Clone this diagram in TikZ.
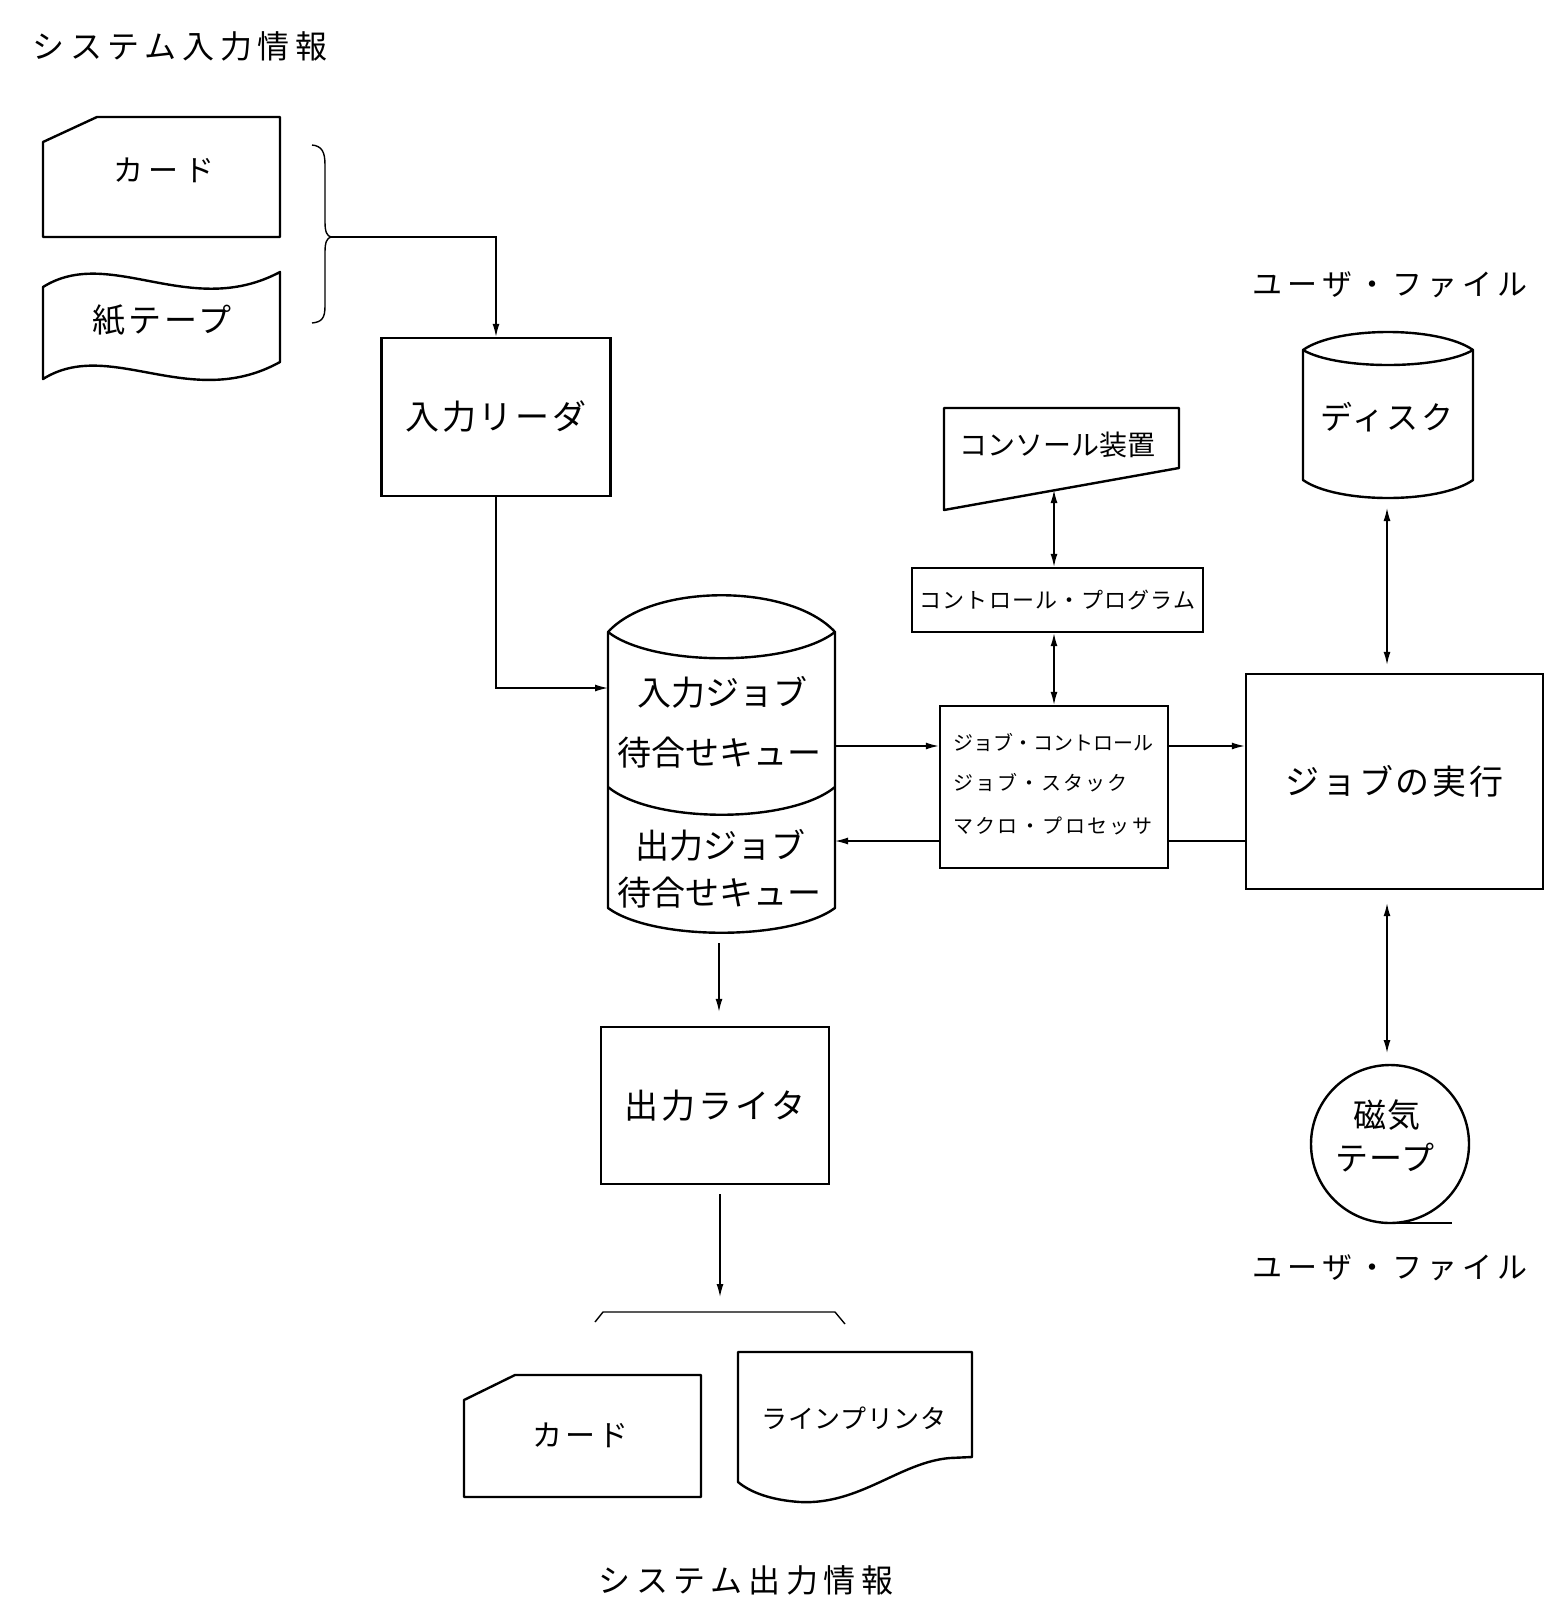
\documentclass[tikz,border=0pt]{standalone}
\usepackage{fontspec}
\setmainfont{Noto Sans CJK JP}
\usetikzlibrary{arrows.meta,calc}
\newcommand{\setjf}[2]{\fontsize{#1}{#1}\selectfont\addfontfeatures{LetterSpace=#2}}
\tikzset{
  shp/.style={draw, line width=2.4pt, line join=round},
  box/.style={draw, line width=2.4pt, rectangle, inner sep=0pt},
  lbl/.style={inner sep=0pt},
  conn/.style={line width=1.4pt},
  arr/.style={conn, -{Latex[length=13pt,width=7pt]}},
  darr/.style={conn, {Latex[length=13pt,width=7pt]}-{Latex[length=13pt,width=7pt]}},
  qt/.style={lbl, font=\setjf{34}{0}}
}
\begin{document}
\begin{tikzpicture}[x=1pt,y=-1pt]
\useasboundingbox[fill=white] (0,0) rectangle (1545,1598);

% titles
\node[lbl, font=\setjf{32}{18}] (tin) at (180,46) {システム入力情報};
\node[lbl, font=\setjf{32}{18}] (tout) at (746,1580) {システム出力情報};

% input card
\draw[shp] (43,142) -- (97,117) -- (280,117) -- (280,237) -- (43,237) -- cycle;
\node[lbl, font=\setjf{30}{18}] (card1) at (164,170) {カード};

% paper tape
\draw[shp] (43,287) .. controls (110,245) and (190,320) .. (280,272) -- (280,362)
  .. controls (190,412) and (110,337) .. (43,379) -- cycle;
\node[lbl, font=\setjf{33}{10}] (tape1) at (162,320) {紙テープ};

% brace
\draw[conn] (312,145) .. controls (322,146) and (325,152) .. (325,165) -- (325,222)
  .. controls (325,232) and (327,236) .. (331,237)
  .. controls (327,238) and (325,242) .. (325,252) -- (325,306)
  .. controls (325,318) and (322,322) .. (312,323);
\coordinate (brtip) at (331,237);

% input reader
\node[box, minimum width=229pt, minimum height=158pt, font=\setjf{34}{8}] (reader) at (496,417) {入力リーダ};
\draw[arr] (brtip) -| (reader.north);

% queue cylinder
\draw[shp] (608,632) -- (608,908) .. controls (653,941) and (790,941) .. (835,908) -- (835,632)
  .. controls (790,583) and (653,583) .. (608,632) -- cycle;
\draw[shp] (608,632) .. controls (653,667) and (790,667) .. (835,632);
\draw[shp] (608,787) .. controls (653,824) and (790,824) .. (835,787);
\node[lbl, minimum width=227pt, minimum height=338pt] (queue) at (721.5,764) {};
\node[qt] (q1) at (722,692) {入力ジョブ};
\node[qt] (q2) at (719,753) {待合せキュー};
\node[qt] (q3) at (720,845) {出力ジョブ};
\node[qt] (q4) at (719,893) {待合せキュー};
\coordinate (qin) at (608,688);
\draw[arr] (reader.south) |- (qin);

% job control
\node[box, minimum width=228pt, minimum height=162pt] (jc) at (1054,787) {};
\node[lbl, anchor=west, font=\setjf{20}{0}] (jc1) at (953,742) {ジョブ・コントロール};
\node[lbl, anchor=west, font=\setjf{20}{10}] (jc2) at (953,783) {ジョブ・スタック};
\node[lbl, anchor=west, font=\setjf{20}{12}] (jc3) at (953,826) {マクロ・プロセッサ};
\coordinate (qr1) at (835,746);
\coordinate (qr2) at (835,841);
\draw[arr] (qr1) -- (qr1 -| jc.west);
\draw[arr] (qr2 -| jc.west) -- (qr2);

% execution
\node[box, minimum width=297pt, minimum height=215pt, font=\setjf{34}{8}] (exec) at (1394.5,781.5) {ジョブの実行};
\draw[arr] (qr1 -| jc.east) -- (qr1 -| exec.west);
\draw[conn] (qr2 -| exec.west) -- (qr2 -| jc.east);

% control program
\node[box, minimum width=291pt, minimum height=64pt, font=\setjf{22}{5}] (cp) at (1057.5,600) {コントロール・プログラム};

% console
\draw[shp] (944,408) -- (1179,408) -- (1179,468) -- (944,510) -- cycle;
\node[lbl, font=\setjf{28}{0}] (con) at (1057,445) {コンソール装置};
\coordinate (conb) at (1054,490);
\draw[darr] (conb) -- (conb |- cp.north);
\draw[darr] (conb |- cp.south) -- (conb |- jc.north);

% disk
\draw[shp] (1303,350) -- (1303,480) .. controls (1337,504) and (1439,504) .. (1473,480) -- (1473,350)
  .. controls (1439,326) and (1337,326) .. (1303,350) -- cycle;
\draw[shp] (1303,350) .. controls (1337,370) and (1439,370) .. (1473,350);
\node[lbl, font=\setjf{32}{7}] (disk) at (1387,417) {ディスク};
\coordinate (diskb) at (1387,498);
\draw[darr, shorten <=10pt, shorten >=8pt] (diskb) -- (diskb |- exec.north);
\node[lbl, font=\setjf{30}{17}] (uf1) at (1390,285) {ユーザ・ファイル};

% magnetic tape
\draw[shp] (1390,1144) circle[radius=79pt];
\draw[shp] (1390,1223) -- (1452,1223);
\node[lbl, font=\setjf{33}{2}] (mt1) at (1387,1115) {磁気};
\node[lbl, font=\setjf{33}{2}] (mt2) at (1385,1158) {テープ};
\coordinate (tapet) at (1387,1065);
\draw[darr, shorten <=13pt, shorten >=12pt] (tapet |- exec.south) -- (tapet);
\node[lbl, font=\setjf{30}{17}] (uf2) at (1390,1268) {ユーザ・ファイル};

% output writer
\node[box, minimum width=228pt, minimum height=157pt, font=\setjf{34}{9}] (wr) at (715,1105.5) {出力ライタ};
\coordinate (qbot) at (719,933);
\draw[arr, shorten <=10pt, shorten >=14pt] (qbot) -- (qbot |- wr.north);

% bracket
\draw[conn] (595,1322) -- (603,1312) -- (835,1312) -- (845,1324);
\coordinate (brk) at (720,1312);
\draw[arr, shorten <=9pt, shorten >=15pt] (brk |- wr.south) -- (brk);

% output card
\draw[shp] (464,1400) -- (515,1375) -- (701,1375) -- (701,1497) -- (464,1497) -- cycle;
\node[lbl, font=\setjf{30}{10}] (card2) at (580,1435) {カード};

% line printer document
\draw[shp] (738,1352) -- (972,1352) -- (972,1457) -- (950,1458)
  .. controls (900,1462) and (860,1505) .. (800,1502)
  .. controls (770,1500) and (750,1492) .. (738,1482) -- cycle;
\node[lbl, font=\setjf{26}{2}] (lp) at (854,1418) {ラインプリンタ};
\end{tikzpicture}
\end{document}
